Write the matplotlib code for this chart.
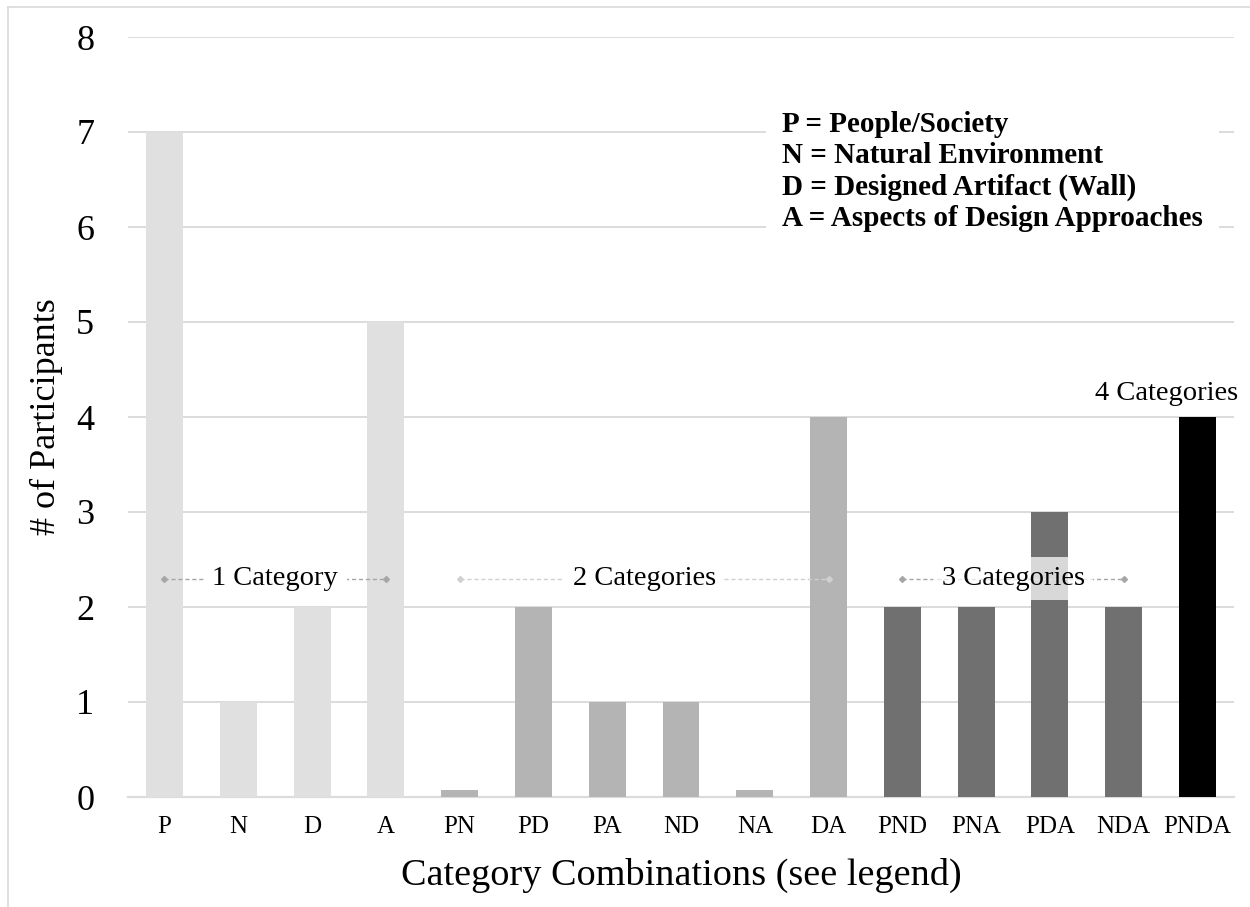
import matplotlib
matplotlib.use('Agg')
from matplotlib import pyplot as plt
from matplotlib.lines import Line2D

plt.rcParams['font.family'] = ['Liberation Serif', 'DejaVu Serif']

combos = ['P', 'N', 'D', 'A', 'PN', 'PD', 'PA', 'ND', 'NA', 'DA',
          'PND', 'PNA', 'PDA', 'NDA', 'PNDA']
participants = [7, 1, 2, 5, 0.07, 2, 1, 1, 0.07, 4, 2, 2, 3, 2, 4]
n_categories = [1, 1, 1, 1, 2, 2, 2, 2, 2, 2, 3, 3, 3, 3, 4]

group_labels = ['1 Category', '2 Categories', '3 Categories']
group_spans = [('P', 'A'), ('PN', 'DA'), ('PND', 'NDA')]
top_label = '4 Categories'

legend_lines = ['P = People/Society',
                'N = Natural Environment',
                'D = Designed Artifact (Wall)',
                'A = Aspects of Design Approaches']

bar_colors = {1: '#e0e0e0', 2: '#b4b4b4', 3: '#707070', 4: '#000000'}
line_colors = ['#a6a6a6', '#d0d0d0', '#a6a6a6']
box_alpha = [1.0, 1.0, 0.73]
GRID = '#dcdcdc'
LABEL_Y = 2.3


def draw():
    fig = plt.figure(figsize=(12.5, 9.07), dpi=100)
    ax = fig.add_axes([127.6 / 1250, 110 / 907, 1106.8 / 1250, 760 / 907])

    x = list(range(len(combos)))
    ax.bar(x, participants, width=0.5, color=[bar_colors[c] for c in n_categories], zorder=2)

    ax.set_xlim(-0.5, len(combos) - 0.5)
    ax.set_ylim(0, 8)
    ax.set_yticks(range(0, 9))
    ax.set_xticks(x)
    ax.set_xticklabels(combos, fontsize=18)
    ax.tick_params(axis='y', labelsize=26, length=0, pad=24)
    ax.tick_params(axis='x', length=0, pad=14)
    for side in ax.spines.values():
        side.set_visible(False)
    ax.yaxis.grid(True, color=GRID, lw=1.4, zorder=0)
    ax.set_axisbelow(True)
    ax.axhline(0, color=GRID, lw=1.6, zorder=1, clip_on=False)

    ax.set_xlabel('Category Combinations (see legend)', fontsize=27.5)
    ax.set_ylabel('# of Participants', fontsize=26)
    ax.xaxis.set_label_coords(0.5, -0.08)
    ax.yaxis.set_label_coords(-0.058, 0.5)

    # group labels with dashed connectors
    for label, (a, b), col, alpha in zip(group_labels, group_spans, line_colors, box_alpha):
        i, j = combos.index(a), combos.index(b)
        ax.plot([i, j], [LABEL_Y, LABEL_Y], ls=(0, (3, 2)), lw=1, color=col,
                marker='D', ms=3, zorder=3)
        ax.text((i + j) / 2, LABEL_Y, label, fontsize=20.5, ha='center', va='center', zorder=4,
                bbox=dict(boxstyle='square,pad=0.3', fc='white', ec='none', alpha=alpha))

    k = combos.index('PNDA')
    ax.text(k - 0.42, participants[k] + 0.12, top_label, fontsize=20.5, ha='center', va='bottom')

    ax.text(0.591, 0.903, '\n'.join(legend_lines), transform=ax.transAxes, fontsize=21,
            fontweight='bold', ha='left', va='top', linespacing=1.21, zorder=5,
            bbox=dict(boxstyle='square,pad=0.55', fc='white', ec='none'))

    # outer chart frame
    fig.add_artist(Line2D([8 / 1250, 8 / 1250], [0, 1 - 7 / 907], transform=fig.transFigure,
                          color='#d9d9d9', lw=1.2))
    fig.add_artist(Line2D([8 / 1250, 1], [1 - 7 / 907, 1 - 7 / 907], transform=fig.transFigure,
                          color='#d9d9d9', lw=1.2))

    fig.savefig('out.png', dpi=100)


draw()
